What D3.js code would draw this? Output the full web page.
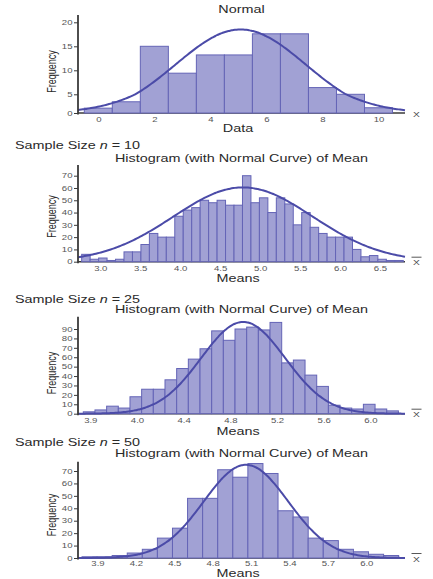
<!DOCTYPE html>
<html><head><meta charset="utf-8">
<script src="https://cdn.jsdelivr.net/npm/d3@7"></script>
<style>
html,body{margin:0;padding:0;background:#fff;}
svg{display:block;font-family:"Liberation Sans",Arial,sans-serif;}
</style></head><body>
<svg id="chart" width="433" height="579"></svg>
<script>
// ---- Raw data histogram ("Normal") ----
const dataBins = [-0.5, 1];                 // first bin edge, bin width
const dataCounts = [1.3, 3, 15, 9.4, 13.2, 13.2, 17.6, 17.6, 6.4, 5, 1.4];
const dataXTicks = [0, 2, 4, 6, 8, 10];
const dataXLabels = ["0", "2", "4", "6", "8", "10"];
const dataYTicks = [0, 5, 10, 15, 20];
const dataCurve = [5.08, 2.32, 18.5];      // mean, sd, peak height

// ---- Sample means, n = 10 ----
const n10Bins = [2.767, 0.1059];
const n10Counts = [6, 2, 3, 1, 2, 8, 8, 14, 23, 20, 20, 37, 42, 44, 50, 48, 50, 46, 46,
                   70, 48, 52, 40, 52, 47, 30, 40, 28, 23, 20, 20, 20, 10, 4, 5, 2, 1, 1];
const n10XTicks = [3.0, 3.5, 4.0, 4.5, 5.0, 5.5, 6.0, 6.5];
const n10XLabels = ["3.0", "3.5", "4.0", "4.5", "5.0", "5.5", "6.0", "6.5"];
const n10YTicks = [0, 10, 20, 30, 40, 50, 60, 70];
const n10Curve = [4.786, 0.872, 60.5];

// ---- Sample means, n = 25 ----
const n25Bins = [3.54, 0.1];
const n25Counts = [2, 4, 8, 6, 18, 26, 26, 36, 48, 58, 69, 88, 78, 90, 92, 89, 97,
                   54, 57, 41, 29, 9, 6, 5, 10, 5, 3];
const n25XTicks = [3.6, 4.0, 4.4, 4.8, 5.2, 5.6, 6.0];
const n25XLabels = ["3.9", "4.0", "4.4", "4.8", "5.2", "5.6", "6.0"];
const n25YTicks = [0, 10, 20, 30, 40, 50, 60, 70, 80, 90];
const n25Curve = [4.91, 0.36, 97.5];

// ---- Sample means, n = 50 ----
const n50Bins = [3.779, 0.1178];
const n50Counts = [1, 1, 2, 4, 7, 16, 24, 48, 48, 71, 65, 76, 68, 38, 33, 16, 14, 7, 5, 3, 2];
const n50XTicks = [3.9, 4.2, 4.5, 4.8, 5.1, 5.4, 5.7, 6.0];
const n50XLabels = ["3.9", "4.2", "4.5", "4.8", "5.1", "5.4", "5.7", "6.0"];
const n50YTicks = [0, 10, 20, 30, 40, 50, 60, 70];
const n50Curve = [5.06, 0.33, 75];

// ---- styling ----
const SX = 1.37;               // horizontal stretch applied to all text
const BAR_FILL = "#a1a1d4";
const BAR_STROKE = "#6464b6";
const CURVE = "#4b4ba8";
const AXIS = "#3a3a3a";
const TICK_TEXT = "#555";
const LEFT = 78, RIGHT = 405;

const svg = d3.select("#chart");

function stretchedText(g, x, y, str, size, opts = {}) {
  const t = g.append("text")
    .attr("transform", `translate(${x},${y}) scale(${SX},1)` + (opts.rotate ? " rotate(-90)" : ""))
    .attr("text-anchor", opts.anchor || "middle")
    .attr("dominant-baseline", "central")
    .attr("font-size", size)
    .attr("fill", opts.fill || "#2a2a2a");
  if (opts.italicN) {
    t.append("tspan").text("Sample Size ");
    t.append("tspan").attr("font-style", "italic").text("n");
    t.append("tspan").text(str);
  } else {
    t.text(str);
  }
  return t;
}

function panel(cfg) {
  const g = svg.append("g");
  const x = d3.scaleLinear().domain(cfg.xDomain).range(cfg.xRange);
  const y = d3.scaleLinear().domain(cfg.yDomain).range(cfg.yRange);
  const base = y(0);

  // x axis baseline
  g.append("line").attr("x1", LEFT).attr("x2", RIGHT)
    .attr("y1", base).attr("y2", base)
    .attr("stroke", AXIS).attr("stroke-width", 1.4);

  // bars
  const [start, width] = cfg.bins;
  g.append("g").selectAll("rect").data(cfg.counts).join("rect")
    .attr("x", (d, i) => x(start + i * width))
    .attr("width", (d, i) => x(start + (i + 1) * width) - x(start + i * width))
    .attr("y", d => y(d))
    .attr("height", d => base - y(d))
    .attr("fill", BAR_FILL)
    .attr("stroke", BAR_STROKE)
    .attr("stroke-width", 1);

  // fitted normal curve
  const [mu, sd, peak] = cfg.curve;
  const x0 = x.invert(LEFT), x1 = x.invert(RIGHT);
  const pts = d3.range(0, 201).map(i => x0 + (x1 - x0) * i / 200);
  const line = d3.line()
    .x(v => x(v))
    .y(v => y(peak * Math.exp(-((v - mu) ** 2) / (2 * sd * sd))))
    .curve(d3.curveBasis);
  g.append("path").datum(pts).attr("d", line)
    .attr("fill", "none").attr("stroke", CURVE).attr("stroke-width", 2);

  // y axis
  g.append("line").attr("x1", LEFT).attr("x2", LEFT)
    .attr("y1", cfg.axisTop).attr("y2", base + 1.5)
    .attr("stroke", AXIS).attr("stroke-width", 1.8);
  const ya = g.append("g").attr("transform", `translate(${LEFT},0)`)
    .call(d3.axisLeft(y).tickValues(cfg.yTicks).tickSize(4).tickPadding(1.5));
  ya.select(".domain").remove();
  ya.selectAll(".tick line").attr("stroke", AXIS).attr("stroke-width", 1);
  ya.selectAll(".tick text")
    .attr("font-size", 7).attr("fill", TICK_TEXT).attr("font-family", null)
    .attr("transform", `translate(-5.5,0) scale(${SX},1) translate(5.5,0)`);

  // x axis labels
  const xa = g.append("g").attr("transform", `translate(0,${cfg.xLabelY})`)
    .call(d3.axisBottom(x).tickValues(cfg.xTicks)
      .tickFormat((d, i) => cfg.xLabels[i]).tickSize(0).tickPadding(0));
  xa.select(".domain").remove();
  xa.selectAll(".tick text")
    .attr("font-size", 7).attr("fill", TICK_TEXT).attr("font-family", null)
    .attr("dy", "0.35em").attr("y", 0)
    .attr("transform", `scale(${SX},1)`);

  // titles and axis names
  if (cfg.sampleLabel) stretchedText(g, 15, cfg.sampleY, cfg.sampleLabel, 10.5, { anchor: "start", italicN: true });
  stretchedText(g, 241.5, cfg.titleY, cfg.title, 10.5);
  stretchedText(g, 238, cfg.xNameY, cfg.xName, 10.5);
  stretchedText(g, 51, cfg.freqY, "Frequency", 9, { rotate: true });

  // variable symbol at the end of the x axis
  stretchedText(g, 416.5, base + 1, "X", 7.5, { fill: "#444" });
  if (cfg.bar) {
    g.append("line").attr("x1", 411.5).attr("x2", 421.5)
      .attr("y1", base - 4.5).attr("y2", base - 4.5)
      .attr("stroke", "#444").attr("stroke-width", 0.9);
  }
}

// The first panel's value axis draws its 0-5 interval shorter than the others
panel({
  xDomain: [0, 10], xRange: [98.3, 378.5],
  yDomain: [0, 5, 20], yRange: [113, 94.3, 22.3],
  bins: dataBins, counts: dataCounts, curve: dataCurve,
  yTicks: dataYTicks, xTicks: dataXTicks, xLabels: dataXLabels,
  axisTop: 15, xLabelY: 119.5, xNameY: 128.5, titleY: 9.5, freqY: 71.5,
  title: "Normal", xName: "Data", bar: false
});

panel({
  xDomain: [3.0, 6.5], xRange: [100.3, 380],
  yDomain: [0, 70], yRange: [261.7, 175.7],
  bins: n10Bins, counts: n10Counts, curve: n10Curve,
  yTicks: n10YTicks, xTicks: n10XTicks, xLabels: n10XLabels,
  axisTop: 165, xLabelY: 269, xNameY: 279, titleY: 158.3, freqY: 216.5,
  sampleLabel: " = 10", sampleY: 146,
  title: "Histogram (with Normal Curve) of Mean", xName: "Means", bar: true
});

panel({
  xDomain: [3.6, 6.0], xRange: [90.3, 370.4],
  yDomain: [0, 90], yRange: [413.7, 329],
  bins: n25Bins, counts: n25Counts, curve: n25Curve,
  yTicks: n25YTicks, xTicks: n25XTicks, xLabels: n25XLabels,
  axisTop: 316.7, xLabelY: 420.5, xNameY: 431.5, titleY: 310, freqY: 373,
  sampleLabel: " = 25", sampleY: 299.3,
  title: "Histogram (with Normal Curve) of Mean", xName: "Means", bar: true
});

panel({
  xDomain: [3.9, 6.0], xRange: [97.5, 366.3],
  yDomain: [0, 70], yRange: [558, 471],
  bins: n50Bins, counts: n50Counts, curve: n50Curve,
  yTicks: n50YTicks, xTicks: n50XTicks, xLabels: n50XLabels,
  axisTop: 461.7, xLabelY: 564, xNameY: 573.5, titleY: 453.3, freqY: 515,
  sampleLabel: " = 50", sampleY: 442.3,
  title: "Histogram (with Normal Curve) of Mean", xName: "Means", bar: true
});
</script>
</body></html>
